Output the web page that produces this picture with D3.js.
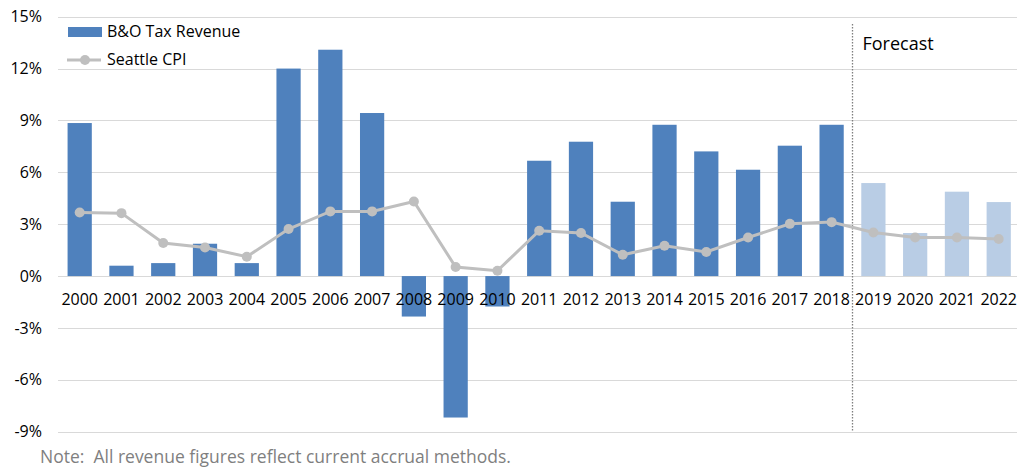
<!DOCTYPE html>
<html>
<head>
<meta charset="utf-8">
<script src="https://cdn.jsdelivr.net/npm/d3@7"></script>
<style>
  body { margin: 0; background: #fff; }
  svg text { font-family: "Open Sans", sans-serif; }
</style>
</head>
<body>
<div id="chart"></div>
<script>
(function() {
  // values, percent change per year
  var years = ["2000","2001","2002","2003","2004","2005","2006","2007","2008","2009","2010",
               "2011","2012","2013","2014","2015","2016","2017","2018","2019","2020","2021","2022"];
  var taxRevenue = [8.85, 0.6, 0.75, 1.87, 0.75, 12.0, 13.09, 9.43, -2.34, -8.18, -1.76,
                    6.67, 7.77, 4.3, 8.75, 7.21, 6.15, 7.54, 8.75, 5.38, 2.49, 4.88, 4.28];
  var seattleCpi = [3.68, 3.64, 1.91, 1.65, 1.12, 2.72, 3.74, 3.74, 4.31, 0.52, 0.31,
                    2.62, 2.49, 1.23, 1.75, 1.39, 2.23, 3.02, 3.12, 2.52, 2.23, 2.23, 2.14];
  var forecastStart = "2019";
  var yTicks = [-9, -6, -3, 0, 3, 6, 9, 12, 15];

  var width = 1017, height = 468;
  var left = 58.8, right = 1019.6, top = 16.7, bottom = 431.7;

  var svg = d3.select("#chart").append("svg")
      .attr("width", width)
      .attr("height", height);

  var x = d3.scaleBand()
      .domain(years)
      .range([left, right])
      .paddingInner(0.42)
      .paddingOuter(0.21);

  var y = d3.scaleLinear()
      .domain([-9, 15])
      .range([bottom, top]);

  // gridlines
  svg.append("g")
    .selectAll("line")
    .data(yTicks)
    .join("line")
      .attr("x1", 58)
      .attr("x2", width)
      .attr("y1", function(d) { return Math.round(y(d)) + 0.5; })
      .attr("y2", function(d) { return Math.round(y(d)) + 0.5; })
      .attr("stroke", "#d9d9d9")
      .attr("stroke-width", 1);

  // y axis labels
  var yAxis = svg.append("g")
      .attr("transform", "translate(58,0)")
      .call(d3.axisLeft(y).tickValues(yTicks).tickSize(0).tickPadding(16)
        .tickFormat(function(d) { return d + "%"; }));
  yAxis.select(".domain").remove();
  yAxis.selectAll("text")
      .attr("font-size", 16)
      .attr("font-family", "'Open Sans', sans-serif")
      .attr("fill", "#000");

  // bars
  var isForecast = function(yr) { return +yr >= +forecastStart; };
  svg.append("g")
    .selectAll("rect")
    .data(years)
    .join("rect")
      .attr("x", function(d) { return x(d); })
      .attr("width", x.bandwidth())
      .attr("y", function(d, i) { return y(Math.max(0, taxRevenue[i])); })
      .attr("height", function(d, i) { return Math.abs(y(taxRevenue[i]) - y(0)); })
      .attr("fill", function(d) { return isForecast(d) ? "#b9cde5" : "#4f81bd"; });

  // x axis labels
  var xAxis = svg.append("g")
      .attr("transform", "translate(0," + y(0) + ")")
      .call(d3.axisBottom(x).tickSize(0).tickPadding(18));
  xAxis.select(".domain").remove();
  xAxis.selectAll("text")
      .attr("font-size", 16)
      .attr("font-family", "'Open Sans', sans-serif")
      .attr("fill", "#000");

  // forecast divider
  var divX = x(forecastStart) - x.step() * x.paddingInner() / 2;
  svg.append("line")
      .attr("x1", divX).attr("x2", divX)
      .attr("y1", 24).attr("y2", bottom)
      .attr("stroke", "#7f7f7f")
      .attr("stroke-width", 1.3)
      .attr("stroke-dasharray", "1.5,1.5");

  svg.append("text")
      .attr("x", divX + 10)
      .attr("y", 50)
      .attr("font-size", 18)
      .attr("fill", "#000")
      .text("Forecast");

  // CPI line
  var line = d3.line()
      .x(function(d, i) { return x(years[i]) + x.bandwidth() / 2; })
      .y(function(d) { return y(d); });

  svg.append("path")
      .datum(seattleCpi)
      .attr("fill", "none")
      .attr("stroke", "#bfbfbf")
      .attr("stroke-width", 3)
      .attr("d", line);

  svg.append("g")
    .selectAll("circle")
    .data(seattleCpi)
    .join("circle")
      .attr("cx", function(d, i) { return x(years[i]) + x.bandwidth() / 2; })
      .attr("cy", function(d) { return y(d); })
      .attr("r", 5)
      .attr("fill", "#bfbfbf");

  // legend
  var legend = svg.append("g");
  legend.append("rect")
      .attr("x", 68).attr("y", 27)
      .attr("width", 34).attr("height", 10)
      .attr("fill", "#4f81bd");
  legend.append("text")
      .attr("x", 107).attr("y", 37)
      .attr("font-size", 16)
      .text("B&O Tax Revenue");
  legend.append("line")
      .attr("x1", 67).attr("x2", 101)
      .attr("y1", 60).attr("y2", 60)
      .attr("stroke", "#bfbfbf")
      .attr("stroke-width", 3);
  legend.append("circle")
      .attr("cx", 85).attr("cy", 60).attr("r", 5)
      .attr("fill", "#bfbfbf");
  legend.append("text")
      .attr("x", 107).attr("y", 65)
      .attr("font-size", 16)
      .text("Seattle CPI");

  // footnote
  svg.append("text")
      .attr("x", 40)
      .attr("y", 463)
      .attr("font-size", 17.5)
      .attr("fill", "#7f7f7f")
      .style("white-space", "pre")
      .text("Note:  All revenue figures reflect current accrual methods.");
})();
</script>
</body>
</html>
